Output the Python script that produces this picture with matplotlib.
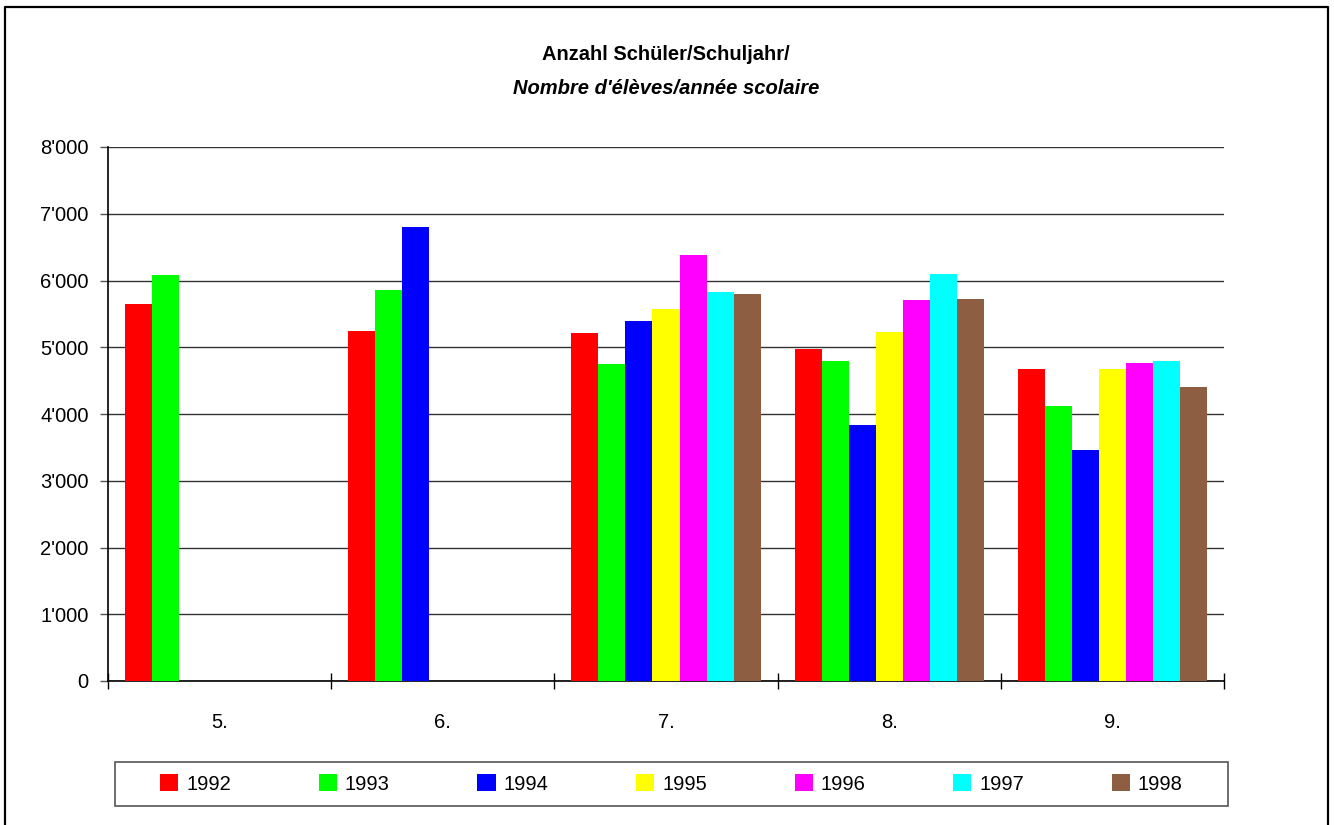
import numpy as np
import matplotlib
matplotlib.use("Agg")
import matplotlib.pyplot as plt
from matplotlib.lines import Line2D
from matplotlib.patches import Rectangle
from matplotlib.ticker import FuncFormatter, FixedLocator

plt.rcParams['font.family'] = ['Liberation Sans', 'DejaVu Sans']

nan = np.nan
grades = ['5.', '6.', '7.', '8.', '9.']
years = ['1992', '1993', '1994', '1995', '1996', '1997', '1998']
v1992 = [5650, 5250, 5220, 4980, 4670]
v1993 = [6080, 5860, 4750, 4790, 4120]
v1994 = [nan, 6800, 5390, 3840, 3460]
v1995 = [nan, nan, 5570, 5230, 4670]
v1996 = [nan, nan, 6380, 5710, 4760]
v1997 = [nan, nan, 5830, 6100, 4790]
v1998 = [nan, nan, 5800, 5730, 4410]
series = [v1992, v1993, v1994, v1995, v1996, v1997, v1998]
colors = ['#FF0000', '#00FF00', '#0000FF', '#FFFF00', '#FF00FF', '#00FFFF', '#8E5E42']

W, H = 1334, 825
fig = plt.figure(figsize=(W / 100, H / 100), dpi=100)
ax = fig.add_axes([108 / W, 1 - 681 / H, (1224 - 108) / W, (681 - 147) / H])

n = len(series)
bw = 1 / (n + 1.26)
x0 = np.arange(len(grades)) + (1 - n * bw) / 2
for k, (vals, c, yr) in enumerate(zip(series, colors, years)):
    ax.bar(x0 + k * bw, np.array(vals, dtype=float), width=bw, align='edge',
           color=c, edgecolor='none', label=yr, zorder=3)

ax.set_xlim(0, len(grades))
ax.set_ylim(0, 8000)
ax.set_yticks(np.arange(0, 8001, 1000))
ax.yaxis.set_major_formatter(FuncFormatter(
    lambda v, p: f"{int(v):,}".replace(',', "'")))
ax.yaxis.grid(True, color='#333333', linewidth=1.0, zorder=1)
ax.set_axisbelow(True)

ax.xaxis.set_major_locator(FixedLocator(np.arange(0, len(grades) + 1)))
ax.xaxis.set_major_formatter(FuncFormatter(lambda v, p: ''))
ax.xaxis.set_minor_locator(FixedLocator(np.arange(len(grades)) + 0.5))
ax.set_xticklabels(grades, minor=True)
ax.tick_params(axis='x', which='major', direction='inout', length=11.5, width=1, color='black')
ax.tick_params(axis='x', which='minor', length=0, pad=23, labelsize=14.5)
ax.tick_params(axis='y', direction='out', length=5.8, width=1, color='#555555', pad=8, labelsize=14.5)

for s in ['top', 'right']:
    ax.spines[s].set_visible(False)
ax.spines['left'].set_color('black')
ax.spines['left'].set_linewidth(1.2)
ax.spines['bottom'].set_color('black')
ax.spines['bottom'].set_linewidth(1.2)

fig.text(666 / W, 1 - 55 / H, "Anzahl Schüler/Schuljahr/", ha='center', va='center',
         fontsize=14.5, fontweight='bold')
fig.text(666 / W, 1 - 88 / H, "Nombre d'élèves/année scolaire", ha='center', va='center',
         fontsize=14.5, fontweight='bold', style='italic')

# legend box
fig.add_artist(Rectangle((115 / W, 1 - 806 / H), (1228 - 115) / W, 44 / H,
                         transform=fig.transFigure, facecolor='white',
                         edgecolor='#555555', linewidth=1.2))
leg = fig.legend(loc='center', bbox_to_anchor=(671.5 / W, 1 - 784 / H), ncol=7,
                 frameon=False, fontsize=14.5, handlelength=0.9, handleheight=0.9,
                 handletextpad=0.4, columnspacing=4.35)

# outer border
bx = [5 / W, 5 / W, 1328 / W, 1328 / W]
by = [0, 1 - 7 / H, 1 - 7 / H, 0]
fig.add_artist(Line2D(bx, by, transform=fig.transFigure, color='black', linewidth=1.6))

fig.savefig('out.png', dpi=100)
